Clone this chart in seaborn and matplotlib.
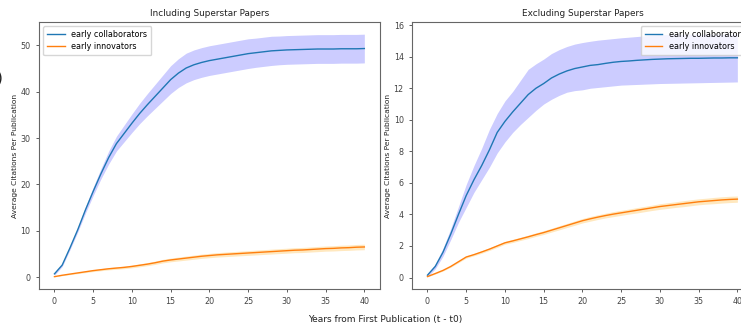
#!/usr/bin/env python3

import seaborn as sns
import numpy as np
import matplotlib.pyplot as plt

years = list(range(41))

# Including superstar papers
inc_collab = [0.7, 2.6, 6.3, 10.2, 14.5, 18.5, 22.3, 25.8, 28.8, 31.0, 33.2, 35.3, 37.2, 39.0, 40.8, 42.6,
              44.0, 45.1, 45.8, 46.3, 46.7, 47.0, 47.3, 47.6, 47.9, 48.2, 48.4, 48.6, 48.8, 48.9, 49.0,
              49.05, 49.1, 49.15, 49.2, 49.2, 49.2, 49.25, 49.25, 49.25, 49.3]
inc_collab_err = [0.3, 0.3, 0.4, 0.5, 0.7, 0.9, 1.1, 1.4, 1.6, 1.8, 2.0, 2.2, 2.4, 2.6, 2.8, 3.0,
                  3.1, 3.2, 3.2, 3.2, 3.2, 3.2, 3.2, 3.2, 3.2, 3.2, 3.15, 3.15, 3.15, 3.1, 3.1,
                  3.1, 3.1, 3.1, 3.1, 3.1, 3.1, 3.1, 3.1, 3.1, 3.1]
inc_innov = [0.1, 0.4, 0.65, 0.9, 1.15, 1.4, 1.6, 1.8, 1.95, 2.1, 2.3, 2.55, 2.8, 3.1, 3.45, 3.7,
             3.9, 4.1, 4.3, 4.5, 4.65, 4.8, 4.9, 5.0, 5.1, 5.2, 5.3, 5.4, 5.5, 5.6, 5.7,
             5.8, 5.85, 5.95, 6.05, 6.15, 6.2, 6.3, 6.35, 6.45, 6.5]
inc_innov_err = [0.05, 0.1, 0.12, 0.15, 0.18, 0.2, 0.22, 0.24, 0.26, 0.28, 0.3, 0.32, 0.34, 0.36, 0.38, 0.4,
                 0.42, 0.44, 0.45, 0.46, 0.47, 0.48, 0.49, 0.5, 0.5, 0.51, 0.52, 0.52, 0.53, 0.53, 0.54,
                 0.54, 0.55, 0.55, 0.56, 0.56, 0.57, 0.58, 0.58, 0.59, 0.6]

# Excluding superstar papers
exc_collab = [0.15, 0.7, 1.6, 2.75, 4.0, 5.2, 6.2, 7.1, 8.1, 9.2, 9.9, 10.5, 11.05, 11.6, 12.0, 12.3,
              12.65, 12.9, 13.1, 13.25, 13.35, 13.45, 13.5, 13.58, 13.65, 13.7, 13.73, 13.77, 13.8, 13.83, 13.85,
              13.87, 13.88, 13.89, 13.9, 13.9, 13.91, 13.92, 13.92, 13.93, 13.93]
exc_collab_lo = [0.05, 0.55, 1.35, 2.4, 3.5, 4.45, 5.4, 6.2, 7.0, 7.9, 8.6, 9.2, 9.7, 10.15, 10.6, 11.0,
                 11.3, 11.55, 11.75, 11.85, 11.9, 12.0, 12.05, 12.1, 12.15, 12.2, 12.22, 12.24, 12.26, 12.28, 12.3,
                 12.31, 12.32, 12.33, 12.34, 12.35, 12.36, 12.37, 12.38, 12.39, 12.4]
exc_collab_hi = [0.25, 0.85, 1.85, 3.1, 4.5, 5.9, 7.1, 8.2, 9.4, 10.4, 11.2, 11.8, 12.5, 13.2, 13.55, 13.85,
                 14.2, 14.45, 14.65, 14.8, 14.9, 14.98, 15.05, 15.1, 15.15, 15.2, 15.24, 15.28, 15.32, 15.36, 15.4,
                 15.41, 15.41, 15.42, 15.42, 15.42, 15.43, 15.43, 15.43, 15.43, 15.43]
exc_innov = [0.06, 0.25, 0.45, 0.7, 1.0, 1.3, 1.45, 1.62, 1.8, 2.0, 2.2, 2.32, 2.45, 2.58, 2.72, 2.85,
             3.0, 3.15, 3.3, 3.45, 3.6, 3.72, 3.83, 3.93, 4.02, 4.1, 4.18, 4.26, 4.34, 4.42, 4.5,
             4.56, 4.62, 4.68, 4.74, 4.8, 4.84, 4.88, 4.92, 4.95, 4.97]
exc_innov_err = [0.02, 0.03, 0.04, 0.05, 0.06, 0.07, 0.07, 0.08, 0.08, 0.09, 0.09, 0.1, 0.1, 0.11, 0.11, 0.12,
                 0.12, 0.13, 0.13, 0.14, 0.14, 0.15, 0.15, 0.15, 0.16, 0.16, 0.16, 0.17, 0.17, 0.17, 0.18,
                 0.18, 0.18, 0.19, 0.19, 0.19, 0.19, 0.2, 0.2, 0.2, 0.2]

labels = ["early collaborators", "early innovators"]

plt.rcParams['font.family'] = ['DejaVu Sans']
plt.rcParams['axes.edgecolor'] = '#666666'
plt.rcParams['xtick.color'] = '#444444'
plt.rcParams['ytick.color'] = '#444444'

fig = plt.figure(figsize=(7.41, 3.24), dpi=100)
ax1 = fig.add_axes([0.0526, 0.108, 0.460, 0.824])
ax2 = fig.add_axes([0.556, 0.108, 0.460, 0.824])


def panel(ax, title, c_mean, c_lo, c_hi, i_mean, i_err, legend_loc):
    x = np.array(years)
    sns.lineplot(x=x, y=c_mean, ax=ax, color='tab:blue', linewidth=1.0, label=labels[0])
    sns.lineplot(x=x, y=i_mean, ax=ax, color='tab:orange', linewidth=1.0, label=labels[1])
    ax.fill_between(x, c_lo, c_hi, color='blue', alpha=0.2, linewidth=0)
    i_mean = np.array(i_mean)
    i_err = np.array(i_err)
    ax.fill_between(x, i_mean - i_err, i_mean + i_err, color='orange', alpha=0.25, linewidth=0)
    ax.set_title(title, fontsize=6.4, pad=4, color='#222222')
    ax.set_ylabel("Average Citations Per Publication", fontsize=5.4, color='#222222', labelpad=1.5)
    ax.set_xlabel("")
    ax.set_xticks(range(0, 41, 5))
    ax.tick_params(labelsize=5.8, length=2.5, width=0.6)
    for s in ax.spines.values():
        s.set_linewidth(0.8)
    ax.legend(loc=legend_loc, fontsize=5.8, frameon=True, framealpha=0.8,
              handlelength=2.2, borderpad=0.5, labelspacing=0.4)


c_mean = np.array(inc_collab)
c_err = np.array(inc_collab_err)
panel(ax1, "Including Superstar Papers", c_mean, c_mean - c_err, c_mean + c_err,
      inc_innov, inc_innov_err, 'upper left')
panel(ax2, "Excluding Superstar Papers", exc_collab, exc_collab_lo, exc_collab_hi,
      exc_innov, exc_innov_err, 'upper right')

fig.text(0.52, 0.014, "Years from First Publication (t - t0)", ha='center', va='center',
         fontsize=6.5, color='#222222')
fig.text(0.0, 0.76, ")", ha='center', va='center', fontsize=11, color='#222222')

plt.savefig('out.png', dpi=100)
